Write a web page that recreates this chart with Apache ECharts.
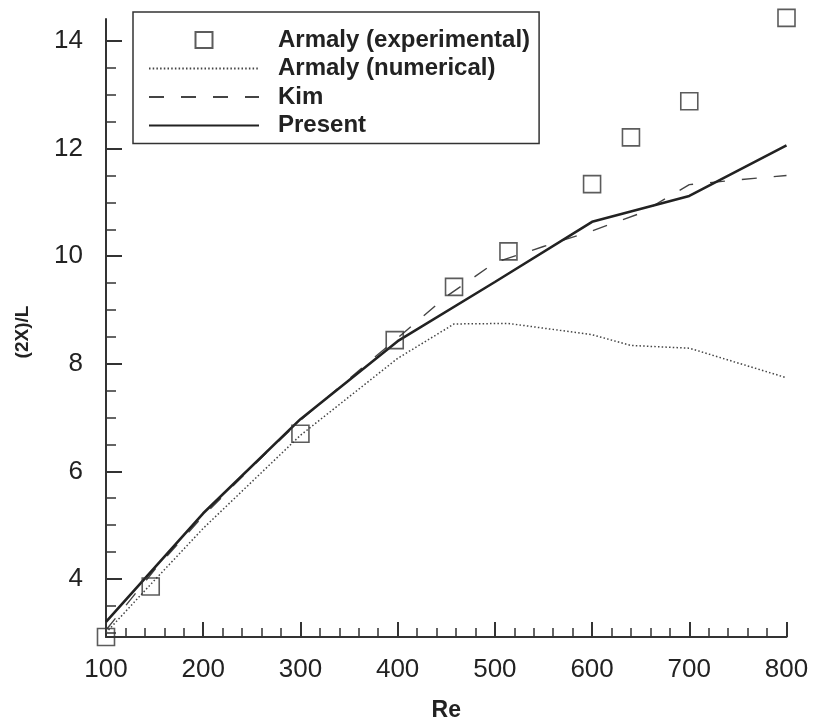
<!DOCTYPE html>
<html>
<head>
<meta charset="utf-8">
<script src="https://cdn.jsdelivr.net/npm/echarts@6/dist/echarts.min.js"></script>
<style>html,body{margin:0;padding:0;background:#fff}#c{width:813px;height:727px}</style>
</head>
<body>
<div id="c"></div>
<script>
var reExp = [100, 146, 300, 397, 458, 514, 600, 640, 700, 800];
var valExp = [2.92, 3.86, 6.70, 8.44, 9.43, 10.09, 11.34, 12.21, 12.88, 14.43];
var reNum = [100, 146, 200, 300, 400, 458, 514, 600, 640, 700, 800];
var valNum = [3.0, 3.9, 4.94, 6.67, 8.1, 8.74, 8.75, 8.54, 8.34, 8.29, 7.74];
var reKim = [100, 150, 200, 250, 300, 350, 400, 450, 500, 550, 600, 650, 700, 750, 800];
var valKim = [3.05, 4.17, 5.17, 6.08, 6.95, 7.72, 8.48, 9.25, 9.88, 10.18, 10.47, 10.8, 11.33, 11.42, 11.5];
var rePresent = [100, 200, 300, 400, 500, 600, 700, 800];
var valPresent = [3.2, 5.22, 6.97, 8.42, 9.52, 10.64, 11.12, 12.06];
var yMajor = [4, 6, 8, 10, 12, 14];
var yMinor = [3, 3.5, 4.5, 5, 5.5, 6.5, 7, 7.5, 8.5, 9, 9.5, 10.5, 11, 11.5, 12.5, 13, 13.5];
var names = ['Armaly (experimental)', 'Armaly (numerical)', 'Kim', 'Present'];

function pairs(xs, ys) { return xs.map(function (x, i) { return [x, ys[i]]; }); }

var FONT = '"Liberation Sans", Arial, Helvetica, sans-serif';
var AX = '#333';
var hiddenSym = { color: 'rgba(0,0,0,0)', borderColor: 'rgba(0,0,0,0)', borderWidth: 0, opacity: 0 };
var chart = echarts.init(document.getElementById('c'), null, { renderer: 'canvas' });
var yBase = { type: 'value', min: 2.92, max: 14.41, splitLine: { show: false } };
chart.setOption({
  animation: false,
  backgroundColor: '#fff',
  grid: { left: 106, right: 26.5, top: 19, bottom: 87.7, containLabel: false },
  legend: {
    data: [
      { name: names[0], icon: 'path://M0,0M110,17M46.5,0.5h17v16h-17z' },
      { name: names[1], itemStyle: hiddenSym },
      { name: names[2], itemStyle: hiddenSym },
      { name: names[3], itemStyle: hiddenSym }
    ],
    orient: 'vertical',
    left: 133, top: 12,
    padding: [16, 9, 6, 15],
    borderColor: '#333', borderWidth: 1.5,
    itemWidth: 110, itemHeight: 17, itemGap: 4.5,
    selectedMode: false,
    textStyle: { fontFamily: FONT, fontSize: 24, fontWeight: 'bold', color: '#222', lineHeight: 24, padding: [0, 0, 0, 14] }
  },
  xAxis: {
    type: 'value', min: 100, max: 800, interval: 100,
    name: 'Re', nameLocation: 'middle', nameGap: 62,
    nameTextStyle: { fontFamily: FONT, fontSize: 23, fontWeight: 'bold', color: '#222' },
    axisLine: { lineStyle: { color: AX, width: 2 } },
    axisTick: { inside: true, length: 15, lineStyle: { color: AX, width: 2 } },
    minorTick: { show: true, splitNumber: 5, length: 9, lineStyle: { color: AX, width: 1.5 } },
    axisLabel: { fontFamily: FONT, fontSize: 26, color: '#222', margin: 20 },
    splitLine: { show: false }
  },
  yAxis: [
    Object.assign({}, yBase, {
      name: '(2X)/L', nameLocation: 'middle', nameGap: 74, nameRotate: 90,
      nameTextStyle: { fontFamily: FONT, fontSize: 19, fontWeight: 'bold', color: '#222', padding: [0, 8, 0, 0] },
      axisLine: { show: true, lineStyle: { color: AX, width: 2 } },
      axisTick: { inside: true, length: 16, customValues: yMajor, lineStyle: { color: AX, width: 2 } },
      axisLabel: { fontFamily: FONT, fontSize: 26, color: '#222', margin: 23, customValues: yMajor }
    }),
    Object.assign({}, yBase, {
      position: 'left',
      axisLine: { show: false },
      axisTick: { show: true, inside: true, length: 10, customValues: yMinor, lineStyle: { color: AX, width: 1.5 } },
      axisLabel: { show: false }
    })
  ],
  series: [
    {
      name: names[1], type: 'line', symbol: 'none', data: pairs(reNum, valNum),
      lineStyle: { color: '#444', width: 1.5, type: [1.5, 2.2] }, itemStyle: { color: '#444' }
    },
    {
      name: names[2], type: 'line', symbol: 'none', data: pairs(reKim, valKim),
      lineStyle: { color: '#444', width: 1.4, type: [15, 17] }, itemStyle: { color: '#444' }
    },
    {
      name: names[3], type: 'line', symbol: 'none', data: pairs(rePresent, valPresent),
      lineStyle: { color: '#222', width: 2.6 }, itemStyle: { color: '#222' }
    },
    {
      name: names[0], type: 'scatter', symbol: 'rect', symbolSize: 17, symbolKeepAspect: true, clip: false, z: 5,
      data: pairs(reExp, valExp),
      itemStyle: { color: 'rgba(255,255,255,0)', borderColor: '#333', borderWidth: 1.6 }
    }
  ]
});
</script>
</body>
</html>
